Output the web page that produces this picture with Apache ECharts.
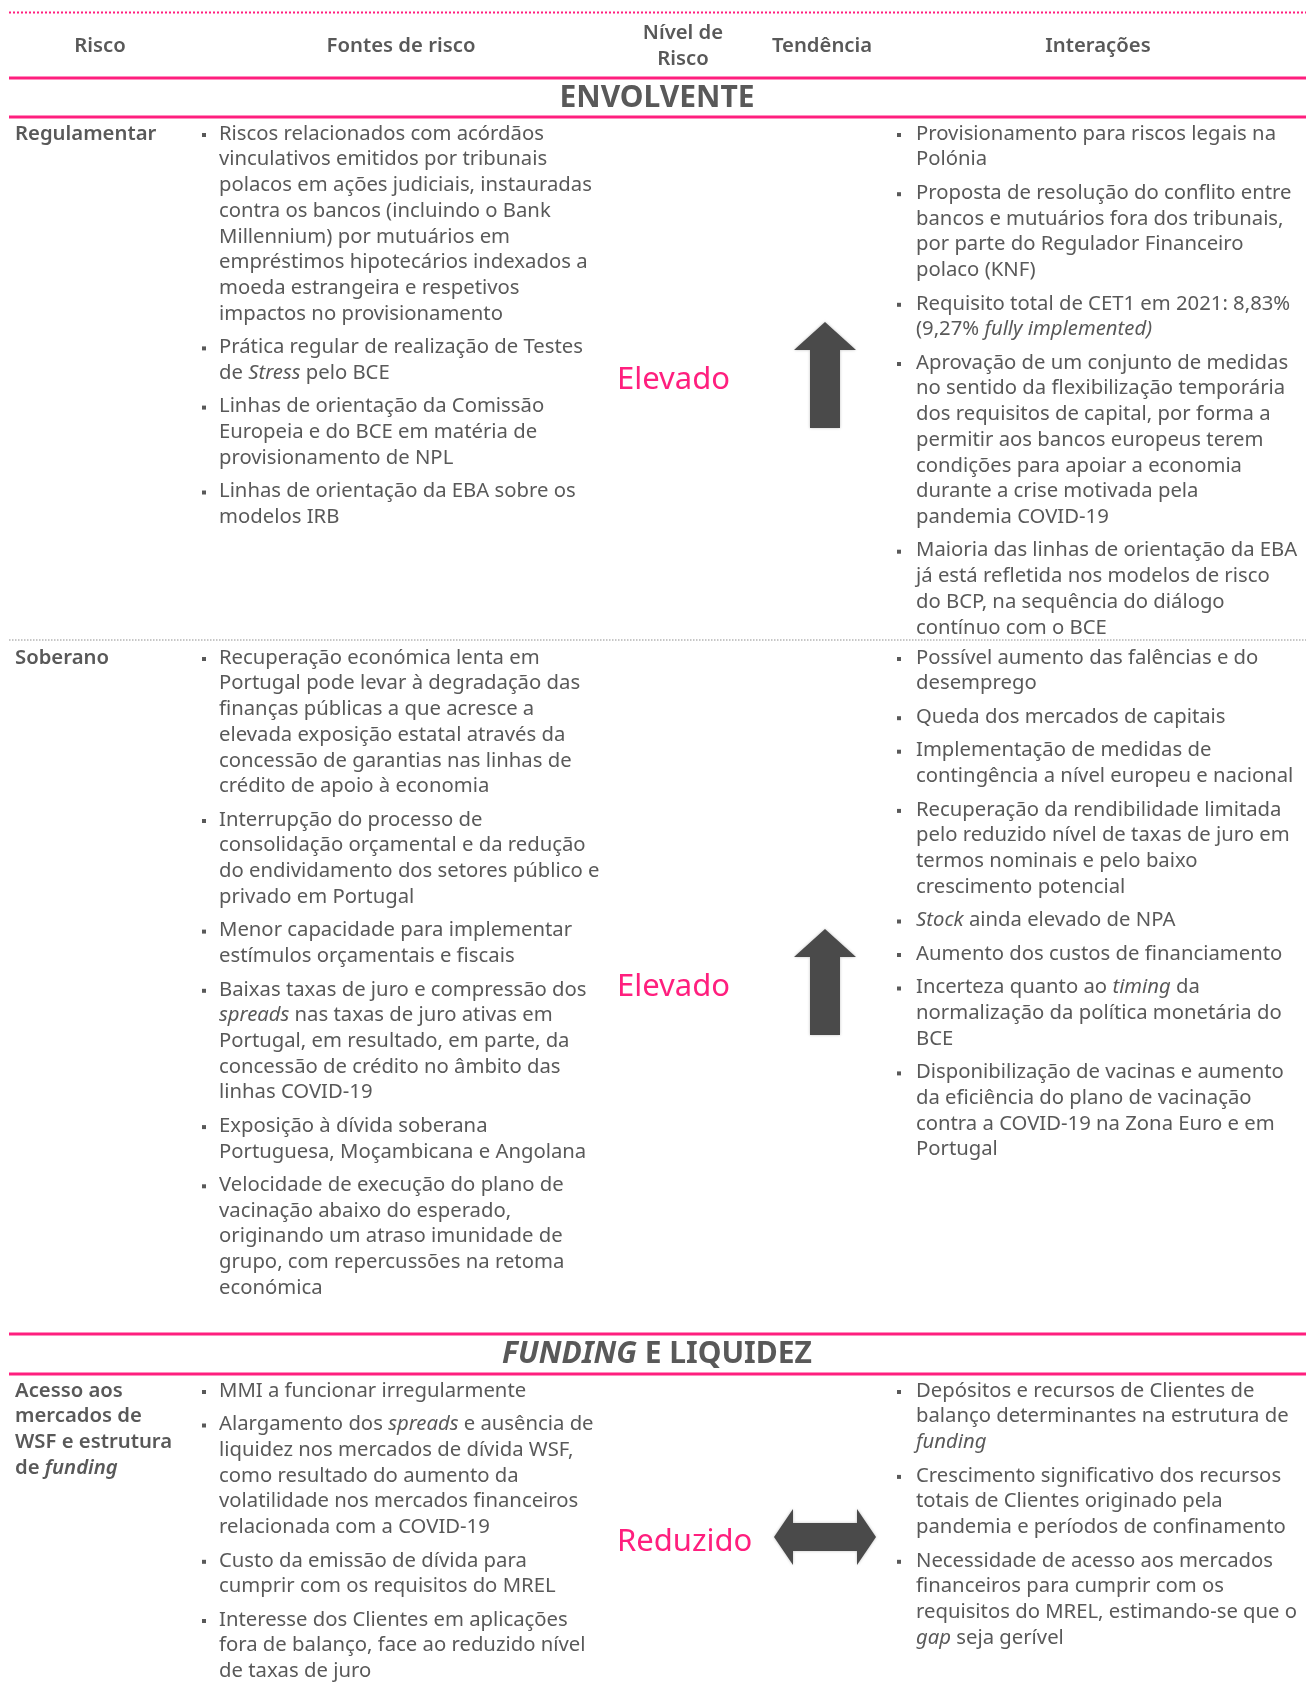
<!DOCTYPE html>
<html><head><meta charset="utf-8">
<script src="https://cdn.jsdelivr.net/npm/echarts@6/dist/echarts.min.js"></script>
<style>html,body{margin:0;padding:0;background:#fff}#c{width:1308px;height:1699px}</style>
</head><body><div id="c"></div>
<script>
// ---------------- DATA ----------------
const headers = ['Risco', 'Fontes de risco', 'Nível de\nRisco', 'Tendência', 'Interações'];
const sectionTitles = ['ENVOLVENTE', '*FUNDING* E LIQUIDEZ'];
const riskNames = [['Regulamentar'], ['Soberano'], ['Acesso aos', 'mercados de', 'WSF e estrutura', 'de *funding*']];
const riskLevels = ['Elevado', 'Elevado', 'Reduzido'];
const trends = ['up', 'up', 'flat'];

const sources1 = [
  ['Riscos relacionados com acórdãos', 'vinculativos emitidos por tribunais', 'polacos em ações judiciais, instauradas', 'contra os bancos (incluindo o Bank', 'Millennium) por mutuários em', 'empréstimos hipotecários indexados a', 'moeda estrangeira e respetivos', 'impactos no provisionamento'],
  ['Prática regular de realização de Testes', 'de *Stress* pelo BCE'],
  ['Linhas de orientação da Comissão', 'Europeia e do BCE em matéria de', 'provisionamento de NPL'],
  ['Linhas de orientação da EBA sobre os', 'modelos IRB']
];
const interactions1 = [
  ['Provisionamento para riscos legais na', 'Polónia'],
  ['Proposta de resolução do conflito entre', 'bancos e mutuários fora dos tribunais,', 'por parte do Regulador Financeiro', 'polaco (KNF)'],
  ['Requisito total de CET1 em 2021: 8,83%', '(9,27% *fully implemented)*'],
  ['Aprovação de um conjunto de medidas', 'no sentido da flexibilização temporária', 'dos requisitos de capital, por forma a', 'permitir aos bancos europeus terem', 'condições para apoiar a economia', 'durante a crise motivada pela', 'pandemia COVID-19'],
  ['Maioria das linhas de orientação da EBA', 'já está refletida nos modelos de risco', 'do BCP, na sequência do diálogo', 'contínuo com o BCE']
];
const sources2 = [
  ['Recuperação económica lenta em', 'Portugal pode levar à degradação das', 'finanças públicas a que acresce a', 'elevada exposição estatal através da', 'concessão de garantias nas linhas de', 'crédito de apoio à economia'],
  ['Interrupção do processo de', 'consolidação orçamental e da redução', 'do endividamento dos setores público e', 'privado em Portugal'],
  ['Menor capacidade para implementar', 'estímulos orçamentais e fiscais'],
  ['Baixas taxas de juro e compressão dos', '*spreads* nas taxas de juro ativas em', 'Portugal, em resultado, em parte, da', 'concessão de crédito no âmbito das', 'linhas COVID-19'],
  ['Exposição à dívida soberana', 'Portuguesa, Moçambicana e Angolana'],
  ['Velocidade de execução do plano de', 'vacinação abaixo do esperado,', 'originando um atraso imunidade de', 'grupo, com repercussões na retoma', 'económica']
];
const interactions2 = [
  ['Possível aumento das falências e do', 'desemprego'],
  ['Queda dos mercados de capitais'],
  ['Implementação de medidas de', 'contingência a nível europeu e nacional'],
  ['Recuperação da rendibilidade limitada', 'pelo reduzido nível de taxas de juro em', 'termos nominais e pelo baixo', 'crescimento potencial'],
  ['*Stock* ainda elevado de NPA'],
  ['Aumento dos custos de financiamento'],
  ['Incerteza quanto ao *timing* da', 'normalização da política monetária do', 'BCE'],
  ['Disponibilização de vacinas e aumento', 'da eficiência do plano de vacinação', 'contra a COVID-19 na Zona Euro e em', 'Portugal']
];
const sources3 = [
  ['MMI a funcionar irregularmente'],
  ['Alargamento dos *spreads* e ausência de', 'liquidez nos mercados de dívida WSF,', 'como resultado do aumento da', 'volatilidade nos mercados financeiros', 'relacionada com a COVID-19'],
  ['Custo da emissão de dívida para', 'cumprir com os requisitos do MREL'],
  ['Interesse dos Clientes em aplicações', 'fora de balanço, face ao reduzido nível', 'de taxas de juro']
];
const interactions3 = [
  ['Depósitos e recursos de Clientes de', 'balanço determinantes na estrutura de', '*funding*'],
  ['Crescimento significativo dos recursos', 'totais de Clientes originado pela', 'pandemia e períodos de confinamento'],
  ['Necessidade de acesso aos mercados', 'financeiros para cumprir com os', 'requisitos do MREL, estimando-se que o', '*gap* seja gerível']
];
const rowSources = [sources1, sources2, sources3];
const rowInteractions = [interactions1, interactions2, interactions3];

// ---------------- LAYOUT / STYLE ----------------
const PINK = '#FF1F7E', GRAY = '#595959', ARROW = '#4a4a4a';
const FAMILY = '"Noto Sans", sans-serif';
const FS = 20.3, LH = 25.7, GAP = 7.8, DY = 2;
const X0 = 9, X1 = 1306;
const headerX = [100, 401, 683, 822, 1098];
const headerY = 44;
const sectionY = [96, 1352];
const pinkLinesY = [78, 117, 1334, 1374];
const grayDotY = 640;
const rowY0 = [132, 656, 1389];
const levelY = [378, 985, 1540];
const labelX = 15, srcBulletX = 204, srcTextX = 219, intBulletX = 899, intTextX = 916;
const levelX = 617, trendX = 825;

function richParts(fs, weight, color) {
  return {
    n: { fontSize: fs, fontFamily: FAMILY, fontWeight: weight, fill: color, fontStyle: 'normal' },
    i: { fontSize: fs, fontFamily: FAMILY, fontWeight: weight, fill: color, fontStyle: 'italic' }
  };
}
function toRich(line) {
  return line.split('*').map((s, k) => s ? (k % 2 ? '{i|' + s + '}' : '{n|' + s + '}') : '').join('');
}
const g = [];
function text(x, y, line, opt) {
  opt = opt || {};
  g.push({
    type: 'text', x: x, y: y + DY, silent: true,
    style: {
      text: toRich(line), align: opt.align || 'left', verticalAlign: 'middle',
      rich: richParts(opt.fs || FS, opt.weight || 'normal', opt.color || GRAY)
    }
  });
}
function hline(y, color, width, dash) {
  g.push({ type: 'line', silent: true, shape: { x1: X0, y1: y, x2: X1, y2: y },
    style: { stroke: color, lineWidth: width, lineDash: dash || null } });
}
function bulletList(items, bx, tx, y0) {
  let y = y0;
  items.forEach((item) => {
    g.push({ type: 'rect', silent: true, shape: { x: bx - 2, y: y + DY - 1, width: 4, height: 4 }, style: { fill: GRAY } });
    item.forEach((ln) => { text(tx, y, ln); y += LH; });
    y += GAP;
  });
}
function arrow(kind, cx, cy) {
  let pts;
  if (kind === 'up') {
    pts = [[0, -53], [31, -25], [15, -25], [15, 53], [-15, 53], [-15, -25], [-31, -25]];
  } else {
    pts = [[-51, 0], [-32, -28], [-32, -14], [32, -14], [32, -28], [51, 0], [32, 28], [32, 14], [-32, 14], [-32, 28]];
  }
  g.push({ type: 'polygon', silent: true, shape: { points: pts.map(p => [cx + p[0], cy + p[1]]) },
    style: { fill: ARROW, shadowBlur: 3, shadowColor: 'rgba(0,0,0,0.25)' } });
}

// header
hline(12.5, PINK, 2, [2, 2]);
headers.forEach((h, k) => {
  const lines = h.split('\n');
  lines.forEach((ln, j) => text(headerX[k], headerY + (j - (lines.length - 1) / 2) * 26, ln, { align: 'center', weight: 600 }));
});
pinkLinesY.forEach(y => hline(y, PINK, 3));
sectionTitles.forEach((t, k) => text(657, sectionY[k], t, { align: 'center', weight: 'bold', fs: 30 }));
hline(grayDotY, '#b5b5b5', 1.5, [1.5, 1.5]);

// rows
riskNames.forEach((name, r) => {
  name.forEach((ln, j) => text(labelX, rowY0[r] + j * LH, ln, { weight: 600 }));
  bulletList(rowSources[r], srcBulletX, srcTextX, rowY0[r]);
  bulletList(rowInteractions[r], intBulletX, intTextX, rowY0[r]);
  text(levelX, levelY[r], riskLevels[r], { fs: 31, color: PINK });
  arrow(trends[r], trendX, levelY[r] - 3);
});

const chart = echarts.init(document.getElementById('c'), null, { renderer: 'canvas' });
chart.setOption({ backgroundColor: '#fff', animation: false, graphic: { elements: g } });
</script></body></html>
